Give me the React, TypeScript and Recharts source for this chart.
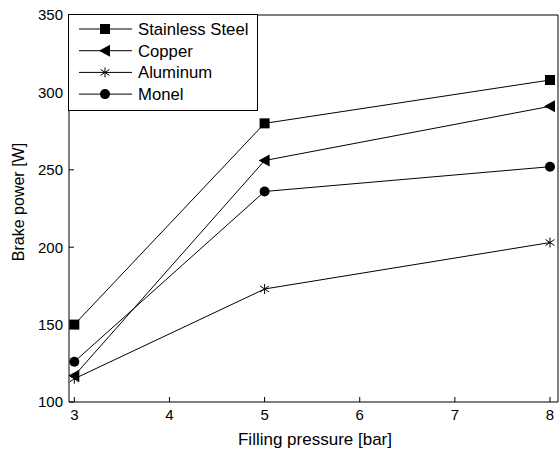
import React from 'react';
import { LineChart, Line, XAxis, YAxis, Label } from 'recharts';

// Filling pressure [bar]
const pressures = [3, 5, 8];
// Brake power [W] per material
const stainlessSteel = [150, 280, 308];
const copper = [117, 256, 291];
const aluminum = [115, 173, 203];
const monel = [126, 236, 252];

const xTicks = [3, 4, 5, 6, 7, 8];
const yTicks = [100, 150, 200, 250, 300, 350];

const data = pressures.map((p, i) => ({
  p,
  steel: stainlessSteel[i],
  copper: copper[i],
  aluminum: aluminum[i],
  monel: monel[i],
}));

const FONT = 'Liberation Sans, Arial, sans-serif';

const Marker = ({ kind, cx, cy }: { kind: string; cx: number; cy: number }) => {
  if (kind === 'square') return <rect x={cx - 5} y={cy - 5} width={10} height={10} fill="#000" />;
  if (kind === 'triangle')
    return <polygon points={`${cx - 6},${cy} ${cx + 5},${cy - 6} ${cx + 5},${cy + 6}`} fill="#000" />;
  if (kind === 'circle') return <circle cx={cx} cy={cy} r={5} fill="#000" />;
  return (
    <g stroke="#000" strokeWidth={1}>
      <line x1={cx} y1={cy - 5} x2={cx} y2={cy + 5} />
      <line x1={cx - 4.5} y1={cy - 3} x2={cx + 4.5} y2={cy + 3} />
      <line x1={cx - 4.5} y1={cy + 3} x2={cx + 4.5} y2={cy - 3} />
    </g>
  );
};

const series = [
  { key: 'steel', name: 'Stainless Steel', kind: 'square' },
  { key: 'copper', name: 'Copper', kind: 'triangle' },
  { key: 'aluminum', name: 'Aluminum', kind: 'star' },
  { key: 'monel', name: 'Monel', kind: 'circle' },
];

const LegendBox = () => (
  <div
    style={{
      position: 'absolute',
      left: 68,
      top: 14,
      width: 190,
      height: 97,
      border: '1px solid #000',
      background: '#fff',
      boxSizing: 'border-box',
    }}
  >
    <svg width={188} height={95} style={{ display: 'block' }}>
      {series.map((s, i) => {
        const y = 14 + i * 21.7;
        return (
          <g key={s.key}>
            <line x1={10} x2={63} y1={y} y2={y} stroke="#000" strokeWidth={1} />
            <Marker kind={s.kind} cx={36} cy={y} />
            <text x={69} y={y + 6} fontSize={16.7} fontFamily={FONT} fill="#000">
              {s.name}
            </text>
          </g>
        );
      })}
    </svg>
  </div>
);

export default function App() {
  return (
    <div style={{ position: 'absolute', left: 0, top: 0, width: 560, height: 450, background: '#fff' }}>
      <LineChart width={560} height={450} data={data} margin={{ top: 14, right: 1, left: 0, bottom: 0 }}>
        <XAxis
          dataKey="p"
          type="number"
          domain={[2.944, 8.084]}
          ticks={xTicks}
          allowDataOverflow
          height={48}
          tickSize={-5}
          tickMargin={12}
          stroke="#000"
          tick={{ fill: '#000', fontSize: 15, fontFamily: FONT }}
        >
          <Label
            content={() => (
              <text x={315} y={445} textAnchor="middle" fontSize={17} fontFamily={FONT} fill="#000">
                Filling pressure [bar]
              </text>
            )}
          />
        </XAxis>
        <XAxis
          xAxisId="top"
          orientation="top"
          type="number"
          domain={[2.944, 8.084]}
          ticks={xTicks}
          allowDataOverflow
          height={1}
          tickSize={-5}
          tick={false}
          stroke="#000"
        />
        <YAxis
          type="number"
          domain={[100, 350]}
          ticks={yTicks}
          width={69}
          tickSize={-5}
          tickMargin={11}
          stroke="#000"
          tick={{ fill: '#000', fontSize: 15, fontFamily: FONT }}
        >
          <Label
            content={() => (
              <text
                x={23.5}
                y={202}
                textAnchor="middle"
                transform="rotate(-90 23.5 202)"
                fontSize={16}
                fontFamily={FONT}
                fill="#000"
              >
                Brake power [W]
              </text>
            )}
          />
        </YAxis>
        <YAxis
          yAxisId="right"
          orientation="right"
          type="number"
          domain={[100, 350]}
          ticks={yTicks}
          width={1}
          tickSize={-5}
          tick={false}
          stroke="#000"
        />
        {series.map((s) => (
          <Line
            key={s.key}
            dataKey={s.key}
            name={s.name}
            stroke="#000"
            strokeWidth={1}
            isAnimationActive={false}
            dot={(props: any) => <Marker key={`${s.key}-${props.index}`} kind={s.kind} cx={props.cx} cy={props.cy} />}
            activeDot={false}
          />
        ))}
      </LineChart>
      <LegendBox />
    </div>
  );
}
